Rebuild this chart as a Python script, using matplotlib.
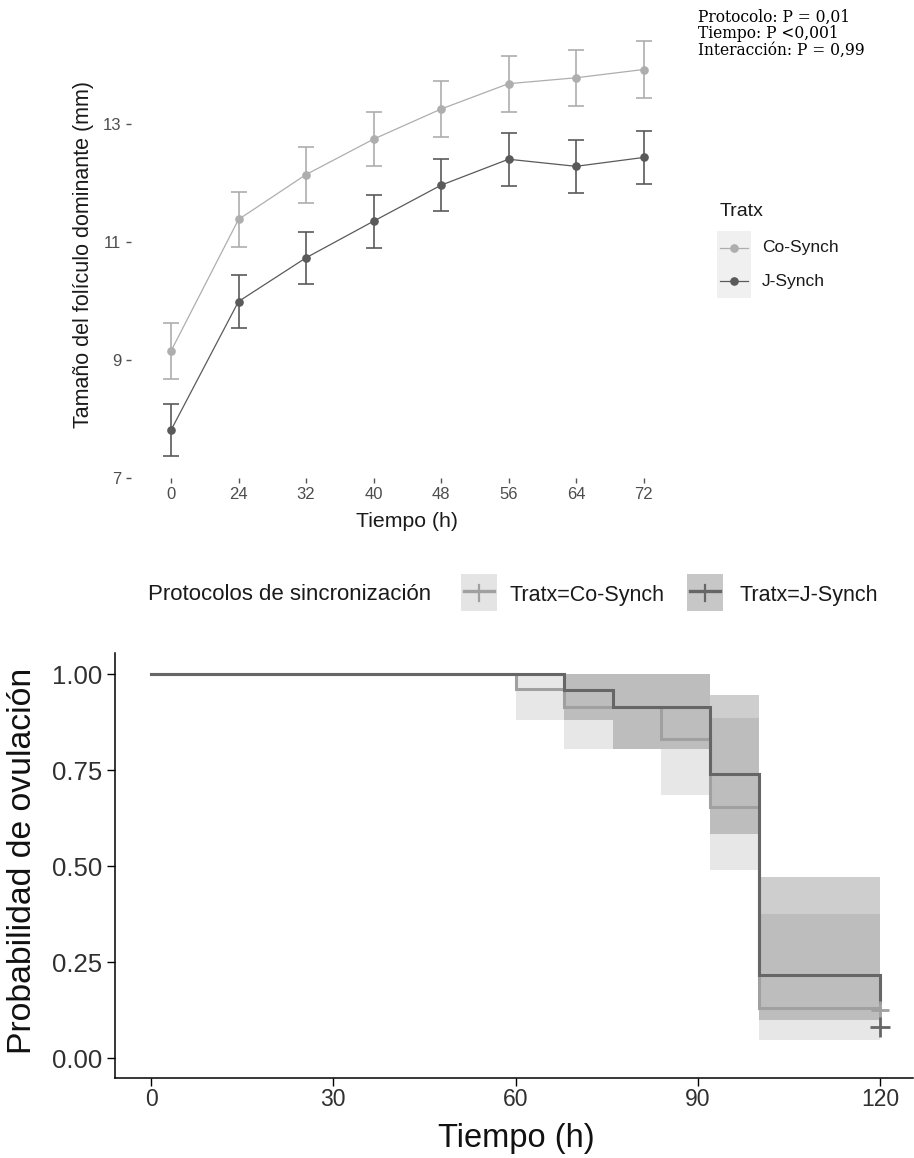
import matplotlib
matplotlib.use("Agg")
import matplotlib.pyplot as plt
from matplotlib.patches import Rectangle
from matplotlib.lines import Line2D
import numpy as np

plt.rcParams['font.family'] = ['Liberation Sans', 'DejaVu Sans']

# ---------------- data: top panel ----------------
hours = ['0', '24', '32', '40', '48', '56', '64', '72']
groups = ['Co-Synch', 'J-Synch']
co_mean = [9.15, 11.38, 12.14, 12.74, 13.25, 13.68, 13.78, 13.92]
co_se = [0.475, 0.465, 0.475, 0.46, 0.48, 0.475, 0.475, 0.475]
j_mean = [7.81, 9.99, 10.73, 11.35, 11.96, 12.40, 12.28, 12.43]
j_se = [0.445, 0.45, 0.445, 0.45, 0.44, 0.45, 0.445, 0.455]
y_ticks_top = [7, 9, 11, 13]
annot_lines = ['Protocolo: P = 0,01', 'Tiempo: P <0,001', 'Interacción: P = 0,99']

# ---------------- data: bottom panel (Kaplan-Meier) ----------------
end_time = 120
co_time = [0, 60, 68, 84, 92, 100]
co_surv = [1.0, 0.961, 0.915, 0.831, 0.655, 0.131]
co_lower = [1.0, 0.88, 0.806, 0.685, 0.49, 0.047]
co_upper = [1.0, 1.0, 1.0, 1.0, 0.885, 0.375]
j_time = [0, 68, 76, 92, 100, 120]
j_surv = [1.0, 0.958, 0.915, 0.739, 0.216, 0.147]
j_lower = [1.0, 0.88, 0.806, 0.583, 0.10, 0.10]
j_upper = [1.0, 1.0, 1.0, 0.945, 0.472, 0.472]
co_cens_t = [120]
co_cens_s = [0.125]
j_cens_t = [120]
j_cens_s = [0.082]
x_ticks_bot = [0, 30, 60, 90, 120]
y_ticks_bot = [0.0, 0.25, 0.50, 0.75, 1.00]
strata = ['Tratx=Co-Synch', 'Tratx=J-Synch']

W, H = 914, 1158
def fx(x):
    return x / W
def fy(y):
    return 1 - y / H

fig = plt.figure(figsize=(W / 100, H / 100), dpi=100)
fig.patch.set_facecolor('white')

# ---------------- top panel ----------------
col_co = '#AEAEAE'
col_j = '#5A5A5A'
ax1 = fig.add_axes([fx(130.5), fy(478), (684 - 130.5) / W, (478 - 40) / H])
xpos = np.arange(len(hours))
for mean, se, col in [(co_mean, co_se, col_co), (j_mean, j_se, col_j)]:
    ax1.errorbar(xpos, mean, yerr=se, color=col, lw=0.9, marker='o', ms=5.2,
                 elinewidth=1.2, capsize=5.8, capthick=1.2)
ax1.set_xlim(-0.6, len(hours) - 0.4)
ax1.set_ylim(7, 14.42)
ax1.set_xticks(xpos)
ax1.set_xticklabels(hours)
ax1.set_yticks(y_ticks_top)
ax1.set_yticklabels([str(v) for v in y_ticks_top])
for s in ax1.spines.values():
    s.set_visible(False)
ax1.tick_params(axis='both', length=3.5, width=1.0, color='#555555',
                labelcolor='#4D4D4D', labelsize=12, pad=3)
ax1.set_xlabel('Tiempo (h)', fontsize=15.3, color='#1a1a1a')
ax1.xaxis.set_label_coords(0.5, (478 - 521.7) / 438)
ax1.xaxis.label.set_va('center')
ax1.set_ylabel('Tamaño del folículo dominante (mm)', fontsize=15.5, color='#1a1a1a')
ax1.yaxis.set_label_coords((84 - 130.5) / 553.5, (478 - 254) / 438)
ax1.yaxis.label.set_va('center')

# annotation
for i, line in enumerate(annot_lines):
    fig.text(fx(698), fy(17.0 + i * 16.8), line, family='DejaVu Serif', fontsize=11.2,
             va='center', ha='left', color='black')

# top legend
fig.text(fx(720), fy(211.7), 'Tratx', fontsize=14, va='center', ha='left', color='#1a1a1a')
for i, (g, col) in enumerate(zip(groups, [col_co, col_j])):
    ytop = 230.7 + i * 33.8
    fig.add_artist(Rectangle((fx(716.7), fy(ytop + 33.8)), 34.3 / W, 33.8 / H,
                             transform=fig.transFigure, fc='#F0F0F0', ec='none'))
    yc = ytop + 16.9
    fig.add_artist(Line2D([fx(719.5), fx(748)], [fy(yc), fy(yc)], transform=fig.transFigure,
                          color=col, lw=0.9))
    fig.add_artist(Line2D([fx(733.8)], [fy(yc)], transform=fig.transFigure,
                          color=col, marker='o', ms=5.2, lw=0))
    fig.text(fx(761.7), fy(yc), g, fontsize=12.5, va='center', ha='left', color='#1a1a1a')

# ---------------- bottom panel ----------------
line_co = '#A0A0A0'
line_j = '#666666'
fill_co = '#B2B2B2'
fill_j = '#5F5F5F'
alpha_f = 0.3
ax2 = fig.add_axes([fx(115), fy(1078), (913 - 115) / W, (1078 - 653) / H])

def ext(t, v):
    if t[-1] < end_time:
        return list(t) + [end_time], list(v) + [v[-1]]
    return list(t), list(v)

for t, lo, hi, fc in [(co_time, co_lower, co_upper, fill_co),
                      (j_time, j_lower, j_upper, fill_j)]:
    tt, lo2 = ext(t, lo)
    _, hi2 = ext(t, hi)
    ax2.fill_between(tt, lo2, hi2, step='post', color=fc, alpha=alpha_f, lw=0)
for t, s, lc in [(co_time, co_surv, line_co), (j_time, j_surv, line_j)]:
    tt, ss = ext(t, s)
    ax2.step(tt, ss, where='post', color=lc, lw=2.2, solid_joinstyle='miter')
ax2.plot(co_cens_t, co_cens_s, ls='none', marker='+', ms=13, mew=2.0, color=line_co)
ax2.plot(j_cens_t, j_cens_s, ls='none', marker='+', ms=14, mew=2.0, color=line_j)

ax2.set_xlim(-5.93, 125.4)
ax2.set_ylim(-0.052, 1.0555)
ax2.set_xticks(x_ticks_bot)
ax2.set_xticklabels([str(v) for v in x_ticks_bot])
ax2.set_yticks(y_ticks_bot)
ax2.set_yticklabels(['%.2f' % v for v in y_ticks_bot])
ax2.spines['top'].set_visible(False)
ax2.spines['right'].set_visible(False)
for sp in ['left', 'bottom']:
    ax2.spines[sp].set_linewidth(1.1)
    ax2.spines[sp].set_color('black')
ax2.tick_params(axis='both', length=5.5, width=1.0, color='black', labelcolor='#303030')
ax2.tick_params(axis='y', labelsize=18.5, pad=4)
ax2.tick_params(axis='x', labelsize=16.5, pad=2)
ax2.set_xlabel('Tiempo (h)', fontsize=23.5, color='#111111')
ax2.xaxis.set_label_coords((516 - 115) / 798, (1078 - 1138) / 425)
ax2.xaxis.label.set_va('center')
ax2.set_ylabel('Probabilidad de ovulación', fontsize=24.3, color='#111111')
ax2.yaxis.set_label_coords((23 - 115) / 798, (1078 - 861) / 425)
ax2.yaxis.label.set_va('center')

# bottom legend
fig.text(fx(147.5), fy(594), 'Protocolos de sincronización', fontsize=16, va='center',
         ha='left', color='#1a1a1a')
key_x = [460.7, 686.7]
text_x = [510, 739]
for kx, tx, lab, fc, lc in zip(key_x, text_x, strata, [fill_co, fill_j], [line_co, line_j]):
    fig.add_artist(Rectangle((fx(kx), fy(611)), 36.6 / W, 36.7 / H, transform=fig.transFigure,
                             fc=fc, alpha=alpha_f + 0.05, ec='none'))
    fig.add_artist(Line2D([fx(kx + 3), fx(kx + 33.6)], [fy(591), fy(591)],
                          transform=fig.transFigure, color=lc, lw=2.4))
    fig.add_artist(Line2D([fx(kx + 18.3), fx(kx + 18.3)], [fy(585), fy(601)],
                          transform=fig.transFigure, color=lc, lw=1.6))
    fig.text(fx(tx), fy(595), lab, fontsize=15.5, va='center', ha='left', color='#1a1a1a')

fig.savefig('out.png', dpi=100, facecolor='white')
